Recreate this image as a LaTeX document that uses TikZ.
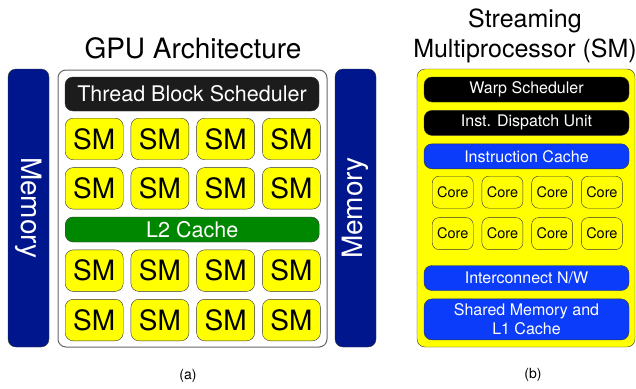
\documentclass[tikz,border=0pt]{standalone}
\usepackage{fontspec}
\setmainfont{TeX Gyre Heros}
\usetikzlibrary{positioning}

\definecolor{memblue}{RGB}{0,22,140}
\definecolor{smyellow}{RGB}{255,255,0}
\definecolor{l2green}{RGB}{0,135,0}
\definecolor{cacheblue}{RGB}{10,60,250}
\definecolor{schedblack}{RGB}{28,28,28}

\tikzset{
   membar/.style={draw=black!80, fill=memblue, rounded corners=8pt,
      minimum width=278pt, minimum height=41pt, inner sep=0pt,
      text=white, font=\fontsize{28}{32}\selectfont},
   smunit/.style={draw=black!80, fill=smyellow, rounded corners=8pt,
      minimum width=58pt, minimum height=41.5pt, inner sep=0pt,
      font=\fontsize{28}{32}\selectfont},
   widebar/.style={draw=black!80, rounded corners=8pt, inner sep=0pt,
      text=white, align=center},
   corecell/.style={draw=black!80, fill=smyellow, rounded corners=7pt,
      minimum width=41pt, minimum height=32pt, inner sep=0pt,
      font=\fontsize{14.5}{17}\selectfont},
   caption/.style={font=\fontsize{14}{17}\selectfont, inner sep=0pt}
}

\begin{document}
\begin{tikzpicture}[x=1pt, y=-1pt]
   \useasboundingbox (0,0) rectangle (636,388);

   % (a) GPU architecture
   \node[font=\fontsize{28}{32}\selectfont, inner sep=0pt] (gputitle) at (193,48) {GPU Architecture};
   \node[membar, rotate=-90] (memleft)  at (28.5,208) {Memory};
   \node[membar, rotate=90]  (memright) at (355.5,208) {Memory};
   \node[draw=black!60, line width=1pt, fill=white, rounded corners=8pt,
      minimum width=269pt, minimum height=277pt] (gpubox) at (192.5,208.5) {};

   \node[widebar, fill=schedblack, minimum width=254pt, minimum height=34pt,
      font=\fontsize{21.5}{25}\selectfont] (tbs) at (192,94) {Thread Block Scheduler};

   % first two rows of SMs
   \node[smunit, anchor=north west] (sm11) at (65,118) {SM};
   \node[smunit, right=7.33pt of sm11] (sm12) {SM};
   \node[smunit, right=7.33pt of sm12] (sm13) {SM};
   \node[smunit, right=7.33pt of sm13] (sm14) {SM};
   \node[smunit, below=7.5pt of sm11]  (sm21) {SM};
   \node[smunit, right=7.33pt of sm21] (sm22) {SM};
   \node[smunit, right=7.33pt of sm22] (sm23) {SM};
   \node[smunit, right=7.33pt of sm23] (sm24) {SM};

   % L2 cache
   \node[widebar, fill=l2green, minimum width=254pt, minimum height=25pt,
      font=\fontsize{21.5}{25}\selectfont,
      below=7.5pt of sm21.south west, anchor=north west] (l2) {L2 Cache};

   % last two rows of SMs
   \node[smunit, below=7.5pt of l2.south west, anchor=north west] (sm31) {SM};
   \node[smunit, right=7.33pt of sm31] (sm32) {SM};
   \node[smunit, right=7.33pt of sm32] (sm33) {SM};
   \node[smunit, right=7.33pt of sm33] (sm34) {SM};
   \node[smunit, below=7.5pt of sm31]  (sm41) {SM};
   \node[smunit, right=7.33pt of sm41] (sm42) {SM};
   \node[smunit, right=7.33pt of sm42] (sm43) {SM};
   \node[smunit, right=7.33pt of sm43] (sm44) {SM};

   \node[caption] (capa) at (188,376) {(a)};

   % (b) streaming multiprocessor
   \node[font=\fontsize{25}{30}\selectfont, align=center, inner sep=0pt,
      anchor=base] (smtitle) at (525,57) {Streaming\\Multiprocessor (SM)};
   \node[draw=black!80, fill=smyellow, rounded corners=8pt,
      minimum width=218pt, minimum height=278pt] (smbox) at (526,208) {};

   \node[widebar, fill=black, minimum width=205pt, minimum height=25pt,
      font=\fontsize{16}{19}\selectfont] (warp) at (526.5,89.5) {Warp Scheduler};
   \node[widebar, fill=black, minimum width=205pt, minimum height=25pt,
      font=\fontsize{16}{19}\selectfont, below=8pt of warp] (dispatch) {Inst. Dispatch Unit};
   \node[widebar, fill=cacheblue, minimum width=205pt, minimum height=25pt,
      font=\fontsize{16}{19}\selectfont, below=8pt of dispatch] (icache) {Instruction Cache};

   % cores
   \node[corecell, anchor=north west] (core11) at (432,176) {Core};
   \node[corecell, right=8.33pt of core11] (core12) {Core};
   \node[corecell, right=8.33pt of core12] (core13) {Core};
   \node[corecell, right=8.33pt of core13] (core14) {Core};
   \node[corecell, below=9pt of core11]    (core21) {Core};
   \node[corecell, right=8.33pt of core21] (core22) {Core};
   \node[corecell, right=8.33pt of core22] (core23) {Core};
   \node[corecell, right=8.33pt of core23] (core24) {Core};

   \node[widebar, fill=cacheblue, minimum width=205pt, minimum height=25pt,
      font=\fontsize{16}{19}\selectfont] (icnw) at (526.5,278) {Interconnect N/W};
   \node[widebar, fill=cacheblue, minimum width=205pt, minimum height=41pt,
      font=\fontsize{16}{19}\selectfont, below=8pt of icnw] (shmem) {Shared Memory and\\L1 Cache};

   \node[caption] (capb) at (533,375) {(b)};
\end{tikzpicture}
\end{document}
